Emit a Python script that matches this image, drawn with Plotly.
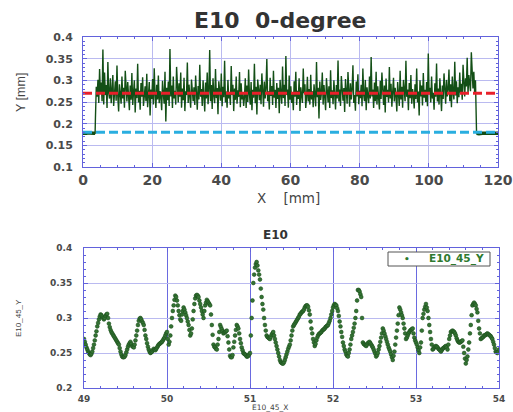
import numpy as np
import plotly.graph_objects as go

# ---------------- top panel data (X [mm], Y [mm]) ----------------
flat_start_x = [0.0, 0.5, 1.0, 1.5, 2.0, 2.5, 3.0, 3.5]
flat_start_y = [0.178, 0.177, 0.178, 0.179, 0.178, 0.177, 0.178, 0.178]

noise_x0 = 3.6
noise_step = 0.2394
noise_y = [
    .215, .285, .262, .301, .248, .326, .270, .295, .252, .371, .244, .318, .266, .289, .236, .342, .271, .258, .305, .247,
    .279, .312, .241, .266, .298, .253, .334, .262, .228, .291, .275, .246, .309, .258, .283, .237, .322, .269, .251, .296,
    .264, .231, .288, .255, .317, .243, .272, .300, .226, .281, .259, .338, .249, .276, .232, .294, .262, .307, .241, .270,
    .286, .252, .315, .238, .268, .296, .219, .279, .257, .303, .244, .328, .266, .236, .290, .256, .311, .247, .275, .262,
    .231, .299, .268, .246, .320, .205, .283, .254, .297, .241, .372, .263, .288, .236, .309, .258, .276, .244, .331, .267,
    .249, .293, .262, .318, .237, .281, .254, .306, .229, .275, .266, .341, .248, .290, .258, .237, .302, .271, .252, .284,
    .243, .311, .264, .232, .287, .256, .336, .262, .280, .241, .300, .270, .228, .295, .258, .318, .245, .276, .370, .252,
    .289, .234, .305, .265, .247, .326, .259, .282, .222, .298, .268, .253, .316, .240, .285, .261, .345, .249, .274, .237,
    .301, .258, .272, .243, .333, .266, .290, .229, .281, .255, .309, .246, .277, .262, .319, .238, .293, .256, .272, .241,
    .262, .305, .236, .288, .250, .325, .268, .244, .296, .231, .278, .260, .338, .247, .285, .221, .302, .269, .254, .290,
    .245, .316, .271, .239, .297, .258, .282, .349, .252, .275, .233, .306, .264, .287, .243, .322, .260, .278, .236, .294,
    .257, .283, .224, .301, .268, .246, .332, .259, .290, .241, .356, .266, .279, .237, .311, .255, .286, .248, .272, .231,
    .298, .262, .320, .243, .276, .257, .305, .229, .284, .265, .248, .327, .270, .291, .236, .262, .308, .251, .280, .244,
    .313, .256, .275, .238, .291, .266, .240, .342, .261, .283, .212, .297, .255, .271, .318, .244, .289, .262, .231, .305,
    .268, .249, .286, .236, .323, .259, .277, .245, .300, .264, .233, .289, .258, .346, .251, .279, .241, .310, .267, .253,
    .282, .227, .303, .262, .246, .319, .271, .239, .293, .256, .280, .335, .248, .266, .230, .297, .263, .314, .245, .276,
    .259, .290, .240, .327, .266, .252, .301, .231, .284, .270, .247, .309, .258, .354, .263, .279, .236, .295, .252, .320,
    .244, .286, .265, .233, .299, .257, .318, .271, .243, .288, .226, .304, .262, .278, .249, .331, .258, .292, .239, .273,
    .306, .251, .283, .264, .228, .296, .269, .241, .322, .256, .285, .237, .301, .268, .252, .345, .262, .279, .231, .294,
    .259, .312, .246, .280, .266, .235, .291, .257, .327, .249, .274, .219, .300, .263, .288, .242, .317, .260, .278, .250,
    .296, .240, .362, .268, .283, .249, .309, .258, .271, .232, .293, .262, .339, .251, .281, .244, .305, .267, .229, .288,
    .257, .316, .272, .246, .301, .263, .280, .325, .252, .291, .238, .309, .270, .256, .343, .265, .298, .247, .284, .261,
    .318, .271, .292, .255, .336, .279, .263, .305, .286, .352, .269, .312, .288, .275, .365, .294, .281, .320, .272, .300,
]
flat_end_x = [113.8, 114.5, 115.5, 116.5, 117.5, 118.5, 119.5, 120.0]
flat_end_y = [0.178, 0.177, 0.178, 0.178, 0.179, 0.178, 0.177, 0.178]

red_level = 0.27
blue_level = 0.18

# ---------------- bottom panel data (E10_45_X, E10_45_Y) ----------------
scan_x0 = 49.0
scan_step = 0.01
scan_y = [
    .270, .266, .262, .258, .255, .252, .250, .248, .247, .249, .252, .257, .262, .268, .275, .281, .288, .293, .298, .302,
    .305, .304, .302, .300, .298, .300, .303, .305, .306, .300, .292, .287, .283, .280, .278, .276, .274, .272, .270, .268,
    .266, .264, .262, .257, .252, .248, .245, .244, .244, .245, .247, .251, .255, .259, .262, .264, .266, .263, .260, .259,
    .258, .262, .268, .275, .282, .290, .296, .299, .300, .298, .295, .293, .290, .283, .275, .270, .264, .259, .255, .252,
    .250, .251, .252, .254, .256, .255, .254, .256, .258, .260, .262, .263, .264, .265, .266, .268, .270, .272, .275, .278,
    .280, .270, .262, .266, .275, .288, .300, .310, .318, .326, .332, .330, .325, .318, .310, .304, .298, .296, .305, .310,
    .315, .312, .308, .304, .300, .295, .290, .283, .275, .278, .285, .298, .310, .320, .328, .332, .333, .332, .330, .325,
    .320, .315, .310, .305, .300, .310, .318, .322, .326, .324, .322, .320, .318, .305, .290, .276, .262, .259, .258, .256,
    .255, .262, .270, .280, .290, .287, .284, .281, .278, .279, .280, .281, .282, .274, .265, .255, .246, .244, .244, .247,
    .258, .266, .275, .283, .290, .288, .285, .278, .270, .264, .258, .254, .250, .249, .248, .247, .245, .245, .246, .248,
    .250, .275, .300, .325, .350, .362, .372, .377, .380, .375, .368, .362, .355, .342, .330, .320, .312, .300, .290, .282,
    .275, .273, .272, .271, .270, .273, .276, .278, .280, .275, .270, .265, .260, .255, .250, .245, .240, .237, .236, .235,
    .235, .237, .240, .244, .248, .252, .256, .259, .262, .268, .275, .282, .288, .290, .292, .294, .296, .298, .300, .302,
    .305, .306, .308, .309, .310, .312, .315, .317, .318, .318, .316, .311, .305, .295, .285, .278, .270, .265, .260, .263,
    .268, .272, .275, .277, .278, .279, .280, .282, .283, .284, .285, .287, .288, .289, .290, .293, .296, .300, .305, .310,
    .315, .318, .320, .319, .318, .314, .310, .303, .295, .288, .280, .273, .265, .260, .255, .252, .248, .246, .245, .250,
    .255, .262, .270, .275, .280, .286, .292, .300, .310, .325, .340, .340, .338, .334, .330, .300, .265, .263, .262, .261,
    .260, .262, .264, .265, .266, .264, .262, .260, .258, .255, .252, .249, .245, .247, .250, .255, .260, .266, .272, .278,
    .285, .282, .278, .274, .270, .266, .262, .258, .255, .252, .248, .244, .240, .246, .252, .262, .272, .282, .292, .304,
    .315, .312, .308, .304, .300, .292, .285, .278, .270, .272, .275, .278, .280, .282, .283, .284, .285, .278, .272, .268,
    .265, .262, .258, .254, .250, .258, .265, .282, .300, .306, .312, .316, .320, .315, .310, .300, .290, .280, .270, .262,
    .255, .256, .258, .259, .260, .259, .258, .256, .255, .254, .252, .254, .256, .257, .258, .259, .260, .258, .255, .262,
    .270, .275, .280, .281, .282, .281, .280, .278, .275, .271, .268, .266, .265, .265, .266, .267, .268, .259, .250, .242,
    .235, .240, .245, .255, .265, .278, .290, .304, .318, .320, .322, .320, .318, .313, .308, .296, .285, .278, .270, .271,
    .272, .273, .275, .275, .276, .277, .278, .277, .276, .275, .274, .272, .270, .266, .262, .257, .252, .251, .250, .252,
    .255,
]
scan_name = "E10_45_Y"

top_x_ticks = [0, 20, 40, 60, 80, 100, 120]
top_y_ticks = [0.1, 0.15, 0.2, 0.25, 0.3, 0.35, 0.4]
top_y_text = ["0.1", "0.15", "0.2", "0.25", "0.3", "0.35", "0.4"]
bot_x_ticks = [49, 50, 51, 52, 53, 54]
bot_y_ticks = [0.2, 0.25, 0.3, 0.35, 0.4]
bot_y_text = ["0.2", "0.25", "0.3", "0.35", "0.4"]

# ---------------- build ----------------
noise_x = noise_x0 + noise_step * np.arange(len(noise_y))
top_x = list(flat_start_x) + list(noise_x) + list(flat_end_x)
top_y = list(flat_start_y) + list(noise_y) + list(flat_end_y)
scan_x = scan_x0 + scan_step * np.arange(len(scan_y))

W, H = 513, 412
GREEN = "#134f16"
BORDER = "#6262dc"
GRID = "#babaf0"
TICKC = "#4a4a4a"
DJ = "DejaVu Sans"

fig = go.Figure()

fig.add_trace(go.Scatter(x=top_x, y=top_y, mode="lines",
                         line=dict(color=GREEN, width=1.4), xaxis="x", yaxis="y"))
fig.add_trace(go.Scatter(x=flat_start_x, y=flat_start_y, mode="lines",
                         line=dict(color=GREEN, width=3.5), xaxis="x", yaxis="y"))
fig.add_trace(go.Scatter(x=flat_end_x, y=flat_end_y, mode="lines",
                         line=dict(color=GREEN, width=3.5), xaxis="x", yaxis="y"))
fig.add_trace(go.Scatter(x=[0, 120], y=[red_level, red_level], mode="lines",
                         line=dict(color="#e8202a", width=3, dash="9px,4px"),
                         xaxis="x", yaxis="y"))
fig.add_trace(go.Scatter(x=[0, 120], y=[blue_level, blue_level], mode="lines",
                         line=dict(color="#2aaee0", width=3, dash="9px,4px"),
                         xaxis="x", yaxis="y"))

fig.add_trace(go.Scatter(x=scan_x, y=scan_y, mode="markers", name=scan_name,
                         marker=dict(color="#347334", size=3.8, symbol="circle",
                                     line=dict(color="#1b4f1b", width=0.6)),
                         xaxis="x2", yaxis="y2"))

axis_common = dict(showline=True, linecolor=BORDER, linewidth=1, mirror="ticks",
                   ticks="inside", tickcolor=BORDER, ticklen=4, automargin=False,
                   ticklabeloverflow="allow",
                   showgrid=True, gridcolor=GRID, gridwidth=1, zeroline=False)


def minor(d):
    return dict(dtick=d, ticks="inside", ticklen=2, tickcolor=BORDER, showgrid=False)


fig.update_layout(
    width=W, height=H, autosize=False,
    margin=dict(l=0, r=0, t=0, b=0, pad=0, autoexpand=False),
    paper_bgcolor="white", plot_bgcolor="white",
    showlegend=False,
    xaxis=dict(domain=[83 / W, 498 / W], range=[0, 120], tickvals=top_x_ticks,
               anchor="y", ticklabelstandoff=0,
               tickfont=dict(family=DJ, size=14, color=TICKC, weight="bold"),
               minor=minor(5), **axis_common),
    yaxis=dict(domain=[1 - 167 / H, 1 - 37 / H], range=[0.1, 0.4],
               tickvals=top_y_ticks, ticktext=top_y_text, anchor="x",
               ticklabelstandoff=7,
               tickfont=dict(family=DJ, size=11, color=TICKC, weight="bold"),
               minor=minor(0.01), **axis_common),
    xaxis2=dict(domain=[84 / W, 499 / W], range=[49, 54], tickvals=bot_x_ticks,
                anchor="y2", ticklabelstandoff=2,
                tickfont=dict(family=DJ, size=9, color=TICKC, weight="bold"),
                minor=minor(0.2),
                **{**axis_common, "gridcolor": "#6a6ae0"}),
    yaxis2=dict(domain=[1 - 388 / H, 1 - 248 / H], range=[0.2, 0.4],
                tickvals=bot_y_ticks, ticktext=bot_y_text, anchor="x2",
                ticklabelstandoff=9,
                tickfont=dict(family=DJ, size=9, color=TICKC, weight="bold"),
                minor=minor(0.01), **axis_common),
)

# manual legend box
fig.add_shape(type="rect", xref="paper", yref="paper",
              x0=388 / W, x1=490 / W, y0=1 - 266 / H, y1=1 - 252 / H,
              line=dict(color="#555555", width=1), fillcolor="white", layer="above")

ann = [
    dict(text="<b>E10  0-degree</b>", x=280, y=21, size=22, color="#333333", angle=0, fam=DJ),
    dict(text="X    [mm]", x=288, y=198, size=13.5, color="#444444", angle=0, fam=DJ),
    dict(text="Y [mm]", x=21, y=93, size=12.5, color="#444444", angle=-90, fam="Liberation Sans"),
    dict(text="<b>E10</b>", x=275, y=235, size=12, color="#333333", angle=0, fam=DJ),
    dict(text="E10_45_X", x=270, y=407, size=7.5, color="#444444", angle=0, fam=DJ),
    dict(text="E10_45_Y", x=18, y=318, size=8, color="#444444", angle=-90, fam="Liberation Sans"),
    dict(text="<b>" + scan_name + "</b>", x=456, y=258, size=10.5, color="#2f7a2f", angle=0, fam=DJ),
    dict(text="<b>•</b>", x=407, y=259, size=9, color="#2f7a2f", angle=0, fam=DJ),
]
for a in ann:
    fig.add_annotation(text=a["text"], x=a["x"] / W, y=1 - a["y"] / H,
                       xref="paper", yref="paper", showarrow=False,
                       textangle=a["angle"],
                       font=dict(family=a["fam"], size=a["size"], color=a["color"]),
                       xanchor="center", yanchor="middle")

fig.write_html("out.html", config={"displayModeBar": False},
               post_script="document.body.style.margin='0';document.body.style.padding='0';")
